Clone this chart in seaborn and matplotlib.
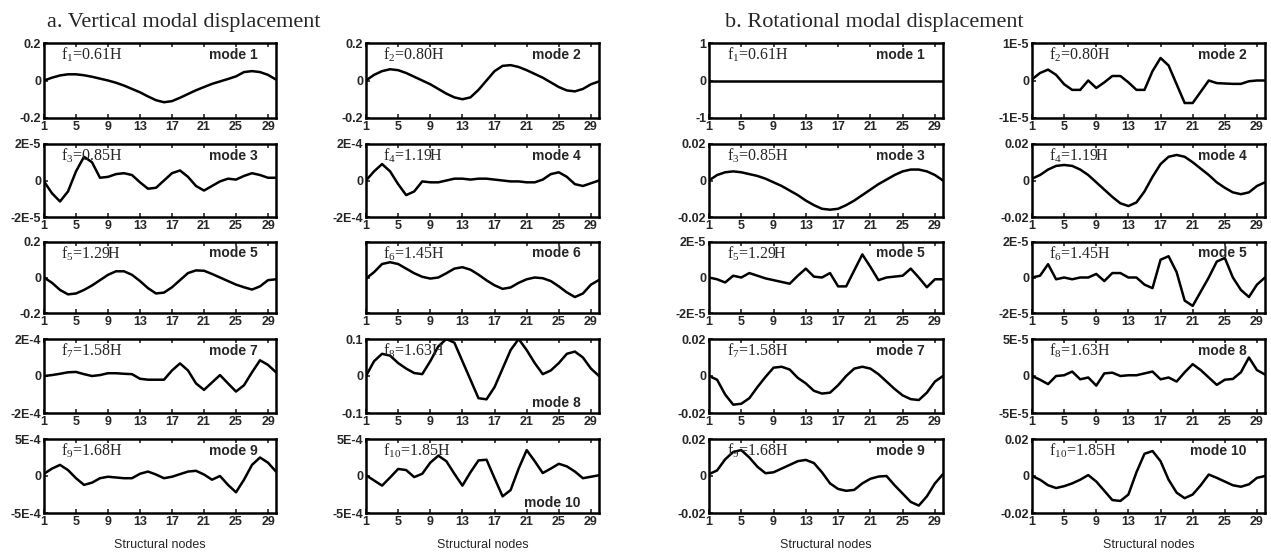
import numpy as np
import pandas as pd
import matplotlib
matplotlib.use("Agg")
import matplotlib.pyplot as plt
import seaborn as sns

# ---------------- data ----------------
nodes = list(range(1, 31))
xticks = [1, 5, 9, 13, 17, 21, 25, 29]

freq_labels = ["0.61H", "0.80H", "0.85H", "1.19H", "1.29H",
               "1.45H", "1.58H", "1.63H", "1.68H", "1.85H"]

# vertical modal displacement (panel a)
vert_mode1 = [0.0, 0.015, 0.027, 0.033, 0.033, 0.028, 0.02, 0.01, 0.0, -0.012,
              -0.027, -0.045, -0.063, -0.085, -0.105, -0.116, -0.11, -0.092, -0.072, -0.052,
              -0.035, -0.018, -0.005, 0.008, 0.022, 0.045, 0.05, 0.045, 0.03, 0.005]
vert_mode2 = [0.0, 0.03, 0.05, 0.06, 0.055, 0.04, 0.02, 0.0, -0.02, -0.045,
              -0.07, -0.09, -0.10, -0.09, -0.05, 0.0, 0.05, 0.078, 0.082, 0.072,
              0.055, 0.035, 0.015, -0.01, -0.035, -0.053, -0.058, -0.045, -0.02, -0.005]
vert_mode3_e5 = [-0.05, -0.7, -1.15, -0.6, 0.5, 1.3, 1.0, 0.15, 0.2, 0.35,
                 0.4, 0.3, -0.1, -0.45, -0.4, 0.0, 0.4, 0.55, 0.2, -0.3,
                 -0.55, -0.3, -0.05, 0.1, 0.05, 0.25, 0.4, 0.3, 0.15, 0.15]
vert_mode4_e4 = [0.0, 0.5, 0.9, 0.5, -0.2, -0.8, -0.6, -0.05, -0.1, -0.1,
                 0.0, 0.1, 0.1, 0.05, 0.1, 0.1, 0.05, 0.0, -0.05, -0.05,
                 -0.1, -0.1, 0.05, 0.35, 0.45, 0.2, -0.2, -0.3, -0.15, 0.0]
vert_mode5 = [0.0, -0.03, -0.07, -0.095, -0.09, -0.07, -0.045, -0.015, 0.015, 0.035,
              0.035, 0.015, -0.02, -0.06, -0.09, -0.085, -0.055, -0.015, 0.025, 0.04,
              0.038, 0.02, 0.0, -0.02, -0.04, -0.055, -0.068, -0.05, -0.015, -0.01]
vert_mode6 = [-0.03, 0.15, 0.38, 0.43, 0.38, 0.25, 0.12, 0.02, -0.03, 0.0,
              0.12, 0.25, 0.29, 0.22, 0.08, -0.08, -0.22, -0.32, -0.28, -0.15,
              -0.05, 0.0, -0.02, -0.1, -0.25, -0.42, -0.55, -0.45, -0.2, -0.07]
vert_mode7_e4 = [0.0, 0.05, 0.12, 0.2, 0.22, 0.1, 0.0, 0.05, 0.15, 0.15,
                 0.12, 0.1, -0.15, -0.2, -0.2, -0.2, 0.3, 0.68, 0.3, -0.4,
                 -0.75, -0.35, 0.05, -0.4, -0.84, -0.5, 0.2, 0.85, 0.6, 0.2]
vert_mode8 = [0.0, 0.04, 0.06, 0.055, 0.035, 0.02, 0.008, 0.005, 0.04, 0.08,
              0.1, 0.09, 0.04, -0.01, -0.06, -0.063, -0.03, 0.02, 0.07, 0.1,
              0.07, 0.035, 0.005, 0.015, 0.035, 0.06, 0.066, 0.05, 0.02, 0.0]
vert_mode9_e4 = [0.3, 1.0, 1.5, 0.8, -0.3, -1.2, -0.9, -0.3, -0.1, -0.2,
                 -0.3, -0.3, 0.3, 0.6, 0.2, -0.3, -0.1, 0.25, 0.6, 0.7,
                 0.2, -0.5, 0.0, -1.2, -2.2, -0.5, 1.5, 2.5, 1.8, 0.6]
vert_mode10_e4 = [0.1, -0.6, -1.3, -0.2, 0.95, 0.8, -0.15, 0.3, 1.8, 2.75,
                  2.0, 0.3, -1.3, 0.5, 2.1, 2.2, -0.3, -2.75, -1.9, 1.0,
                  3.5, 2.0, 0.4, 1.0, 1.65, 1.3, 0.6, -0.3, -0.1, 0.1]

# rotational modal displacement (panel b)
rot_mode1 = [0.0] * 30
rot_mode2_e5 = [0.03, 0.2, 0.29, 0.15, -0.1, -0.25, -0.25, 0.0, -0.2, -0.05,
                0.12, 0.12, -0.05, -0.25, -0.25, 0.25, 0.6, 0.4, -0.1, -0.6,
                -0.6, -0.3, 0.0, -0.07, -0.08, -0.09, -0.09, -0.02, 0.0, 0.0]
rot_mode3 = [0.0, 0.003, 0.0045, 0.005, 0.0045, 0.0035, 0.0025, 0.001, -0.001, -0.003,
             -0.0055, -0.008, -0.011, -0.0135, -0.0155, -0.016, -0.0155, -0.0135, -0.011, -0.008,
             -0.005, -0.002, 0.0005, 0.003, 0.005, 0.006, 0.006, 0.005, 0.003, 0.0]
rot_mode4 = [0.001, 0.003, 0.006, 0.008, 0.0085, 0.008, 0.006, 0.003, -0.001, -0.005,
             -0.009, -0.0125, -0.014, -0.012, -0.006, 0.002, 0.009, 0.013, 0.014, 0.013,
             0.010, 0.0065, 0.003, -0.001, -0.004, -0.0065, -0.0075, -0.0065, -0.003, -0.001]
rot_mode5_e5 = [0.0, -0.1, -0.28, 0.1, 0.0, 0.25, 0.1, -0.05, -0.15, -0.25,
                -0.35, 0.1, 0.5, 0.05, 0.0, 0.25, -0.5, -0.5, 0.4, 1.3,
                0.6, -0.15, 0.0, 0.05, 0.1, 0.5, 0.0, -0.55, -0.1, -0.1]
rot_mode6_e5 = [0.0, 0.1, 0.75, -0.1, 0.0, -0.1, 0.0, 0.0, 0.2, -0.2,
                0.25, 0.25, 0.0, 0.0, -0.4, -0.6, 1.0, 1.2, 0.3, -1.3,
                -1.6, -0.8, 0.0, 0.9, 1.1, 0.0, -0.7, -1.1, -0.4, 0.0]
rot_mode7 = [0.0, -0.002, -0.01, -0.0155, -0.015, -0.012, -0.006, -0.0005, 0.0045, 0.005,
             0.0035, -0.001, -0.004, -0.008, -0.0095, -0.009, -0.005, 0.0, 0.004, 0.005,
             0.004, 0.001, -0.003, -0.007, -0.0105, -0.0125, -0.013, -0.009, -0.003, 0.0]
rot_mode8_e5 = [0.0, -0.5, -1.1, 0.0, 0.1, 0.6, -0.45, -0.2, -1.3, 0.35,
                0.45, 0.0, 0.1, 0.1, 0.35, 0.6, -0.45, -0.2, -0.75, 0.5,
                1.6, 0.8, -0.2, -1.2, -0.5, -0.4, 0.5, 2.5, 0.8, 0.2]
rot_mode9 = [0.001, 0.003, 0.009, 0.013, 0.014, 0.01, 0.005, 0.0015, 0.002, 0.004,
             0.006, 0.008, 0.0087, 0.007, 0.002, -0.004, -0.007, -0.008, -0.0075, -0.004,
             -0.0015, -0.0003, 0.0, -0.005, -0.0095, -0.014, -0.016, -0.011, -0.004, 0.001]
rot_mode10 = [0.0, -0.002, -0.005, -0.0065, -0.0055, -0.004, -0.002, 0.0005, -0.003, -0.008,
              -0.013, -0.0135, -0.01, 0.002, 0.012, 0.0135, 0.008, -0.002, -0.009, -0.012,
              -0.01, -0.005, 0.0008, -0.001, -0.003, -0.005, -0.0058, -0.0045, -0.001, 0.0]

# y limits and tick labels (top label; bottom is its negative)
vert_lims = [0.2, 0.2, 2e-5, 2e-4, 0.2, 1.0, 2e-4, 0.1, 5e-4, 5e-4]
vert_top_labels = ["0.2", "0.2", "2E-5", "2E-4", "0.2", None, "2E-4", "0.1", "5E-4", "5E-4"]
vert_bot_labels = ["-0.2", "-0.2", "-2E-5", "-2E-4", "-0.2", None, "-2E-4", "-0.1", "-5E-4", "-5E-4"]
rot_lims = [1.0, 1e-5, 0.02, 0.02, 2e-5, 2e-5, 0.02, 5e-5, 0.02, 0.02]
rot_top_labels = ["1", "1E-5", "0.02", "0.02", "2E-5", "2E-5", "0.02", "5E-5", "0.02", "0.02"]
rot_bot_labels = ["-1", "-1E-5", "-0.02", "-0.02", "-2E-5", "-2E-5", "-0.02", "-5E-5", "-0.02", "-0.02"]

vert_mode_text = ["mode 1", "mode 2", "mode 3", "mode 4", "mode 5",
                  "mode 6", "mode 7", "mode 8", "mode 9", "mode 10"]
rot_mode_text = ["mode 1", "mode 2", "mode 3", "mode 4", "mode 5",
                 "mode 5", "mode 7", "mode 8", "mode 9", "mode 10"]
vert_mode_text_bottom = [False, False, False, False, False, False, False, True, False, True]

vert_series = [np.array(vert_mode1), np.array(vert_mode2), np.array(vert_mode3_e5) * 1e-5,
               np.array(vert_mode4_e4) * 1e-4, np.array(vert_mode5), np.array(vert_mode6),
               np.array(vert_mode7_e4) * 1e-4, np.array(vert_mode8),
               np.array(vert_mode9_e4) * 1e-4, np.array(vert_mode10_e4) * 1e-4]
rot_series = [np.array(rot_mode1), np.array(rot_mode2_e5) * 1e-5, np.array(rot_mode3),
              np.array(rot_mode4), np.array(rot_mode5_e5) * 1e-5, np.array(rot_mode6_e5) * 1e-5,
              np.array(rot_mode7), np.array(rot_mode8_e5) * 1e-5, np.array(rot_mode9),
              np.array(rot_mode10)]

# ---------------- style ----------------
sns.set_style("ticks")
plt.rcParams["font.family"] = ["Liberation Sans", "DejaVu Sans"]
plt.rcParams["mathtext.fontset"] = "custom"
plt.rcParams["mathtext.rm"] = "Liberation Serif"
plt.rcParams["mathtext.it"] = "Liberation Serif:italic"

W, H = 1271, 553
fig = plt.figure(figsize=(W / 100, H / 100), dpi=100)
fig.patch.set_facecolor("white")

col_x = [(44, 276), (366, 599), (709, 943), (1032, 1265)]
row_y = [(43, 118), (144, 217), (242, 313), (339, 413), (439, 513)]

def make_ax(ci, ri):
    x0, x1 = col_x[ci]
    y0, y1 = row_y[ri]
    return fig.add_axes([x0 / W, 1 - y1 / H, (x1 - x0) / W, (y1 - y0) / H])

def draw(ax, y, lim, top_lab, bot_lab, ftxt, mtxt, mbottom):
    df = pd.DataFrame({"node": nodes, "value": y})
    sns.lineplot(data=df, x="node", y="value", ax=ax, color="black", linewidth=1.8)
    ax.set_xlim(1, 30)
    ax.set_ylim(-lim, lim)
    ax.set_xticks(xticks)
    ax.set_xticklabels([str(t) for t in xticks], fontsize=9, fontweight="bold")
    ax.set_yticks([-lim, 0, lim])
    if top_lab is None:
        ax.set_yticklabels(["", "", ""])
    else:
        ax.set_yticklabels([bot_lab, "0", top_lab], fontsize=9, fontweight="bold")
    ax.tick_params(direction="in", length=3, width=1.2, pad=2, top=True, right=False)
    ax.set_xlabel("")
    ax.set_ylabel("")
    for s in ax.spines.values():
        s.set_linewidth(1.8)
        s.set_color("black")
        s.set_visible(True)
    ax.text(0.075, 0.84, ftxt, transform=ax.transAxes, fontsize=11.5,
            family="Liberation Serif", va="center", ha="left")
    ym = 0.14 if mbottom else 0.84
    ax.text(0.92, ym, mtxt, transform=ax.transAxes, fontsize=10,
            fontweight="bold", va="center", ha="right")

for k in range(10):
    ci = k % 2
    ri = k // 2
    ftxt = r"f$_{\mathrm{%d}}$=%s" % (k + 1, freq_labels[k])
    ax = make_ax(ci, ri)
    draw(ax, vert_series[k], vert_lims[k], vert_top_labels[k], vert_bot_labels[k],
         ftxt, vert_mode_text[k], vert_mode_text_bottom[k])
    if ri == 4:
        ax.set_xlabel("Structural nodes", fontsize=9, labelpad=8)
    ax2 = make_ax(ci + 2, ri)
    draw(ax2, rot_series[k], rot_lims[k], rot_top_labels[k], rot_bot_labels[k],
         ftxt, rot_mode_text[k], False)
    if ri == 4:
        ax2.set_xlabel("Structural nodes", fontsize=9, labelpad=8)

fig.text(47 / W, 1 - 27 / H, "a. Vertical modal displacement", fontsize=16,
         family="Liberation Serif", va="baseline", ha="left")
fig.text(725 / W, 1 - 27 / H, "b. Rotational modal displacement", fontsize=16,
         family="Liberation Serif", va="baseline", ha="left")

fig.savefig("out.png", dpi=100, facecolor="white")
